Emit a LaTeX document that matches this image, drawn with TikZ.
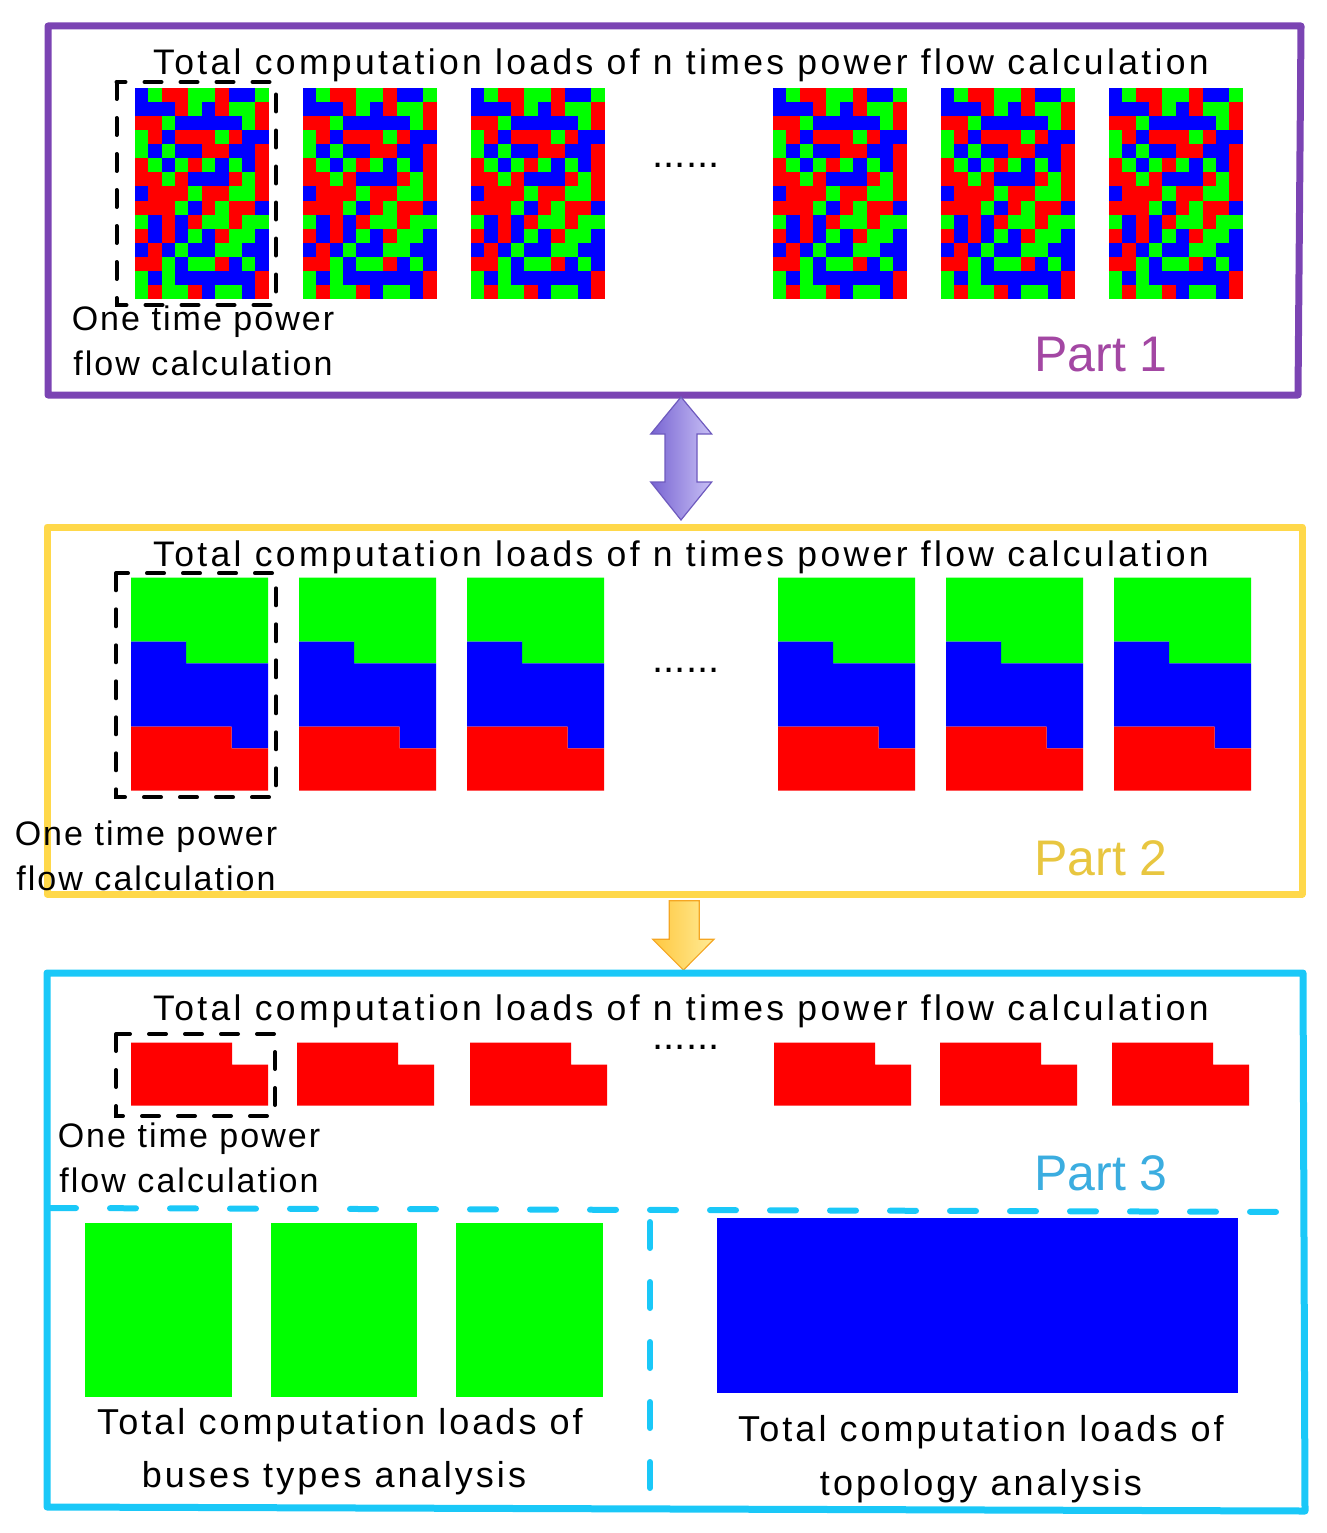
\documentclass[tikz,border=0pt]{standalone}
\usepackage{fontspec}
\setmainfont{Liberation Sans}
\definecolor{cB}{RGB}{0,0,255}
\definecolor{cG}{RGB}{0,255,0}
\definecolor{cR}{RGB}{255,0,0}
\definecolor{purpleframe}{RGB}{123,68,179}
\definecolor{yellowframe}{RGB}{255,216,74}
\definecolor{cyanframe}{RGB}{26,200,248}
\definecolor{partone}{RGB}{163,71,163}
\definecolor{parttwo}{RGB}{232,198,64}
\definecolor{partthree}{RGB}{59,173,224}
\definecolor{arrAleft}{RGB}{120,100,210}
\definecolor{arrAright}{RGB}{200,192,245}
\definecolor{arrAdraw}{RGB}{110,90,190}
\definecolor{arrBleft}{RGB}{255,200,64}
\definecolor{arrBright}{RGB}{255,235,150}
\definecolor{arrBdraw}{RGB}{245,166,35}
\tikzset{
  frame/.style={line width=7pt, line join=round},
  headtxt/.style={anchor=base, inner sep=0pt, font=\fontsize{35.5}{40}\selectfont\addfontfeature{LetterSpace=9.5}},
  txt/.style={anchor=base, inner sep=0pt, font=\fontsize{34}{40}\selectfont\addfontfeature{LetterSpace=6}},
  bigtxt/.style={anchor=base, inner sep=0pt, font=\fontsize{36}{40}\selectfont\addfontfeature{LetterSpace=8.5}},
  parttxt/.style={anchor=base west, inner sep=0pt, font=\fontsize{50}{56}\selectfont},
  dots/.style={anchor=base, inner sep=0pt, font=\fontsize{40}{40}\selectfont},
  onebox/.style={draw=black, line width=4pt, dash pattern=on 17pt off 19pt, line cap=round},
  cyandash/.style={draw=cyanframe, line width=6pt, dash pattern=on 26pt off 34pt, line cap=round}
}
\begin{document}
\begin{tikzpicture}[x=1pt,y=-1pt]
\useasboundingbox (0,0) rectangle (1326,1533);
% ---------- Part 1 ----------
\draw[frame, purpleframe] (48,26) -- (1301,26) -- (1298,395) -- (48,395) -- cycle;
\node[headtxt] (h1) at (681,74.3) {Total computation loads of n times power flow calculation};
\def\pat{{B,G,R,R,G,G,R,B,B,G},{B,B,B,R,G,B,R,G,G,R},{R,R,G,B,B,B,B,B,G,R},{G,R,B,R,R,R,G,R,B,B},{G,B,G,B,B,R,R,B,B,R},{R,G,B,G,R,G,B,G,B,R},{R,R,G,R,B,B,B,R,G,R},{B,R,R,R,G,R,R,G,G,R},{R,R,R,G,B,R,G,R,R,B},{G,B,R,B,R,G,G,R,G,G},{R,B,R,B,G,B,R,G,G,B},{B,R,B,G,B,B,G,G,B,B},{R,R,G,B,G,G,R,B,G,B},{G,B,G,B,B,B,B,B,B,R},{G,R,G,G,R,B,G,G,B,R}}
\foreach \tx in {134.7,302.7,470.7,772.7,940.7,1108.7}{
  \foreach \row [count=\r from 0] in \pat {
    \foreach \c [count=\k from 0] in \row {
      \fill[fill=c\c] (\tx+\k*13.4,88+\r*14.07) rectangle ++(13.5,14.2);
    }
  }
}
\draw[onebox] (116.5,82) rectangle (276,305);
\node[dots] (d1) at (686,168) {......};
\node[txt] (l1a) at (203,330) {One time power};
\node[txt] (l1b) at (203,375) {flow calculation};
\node[parttxt, text=partone] (p1) at (1034,371.7) {Part 1};
% ---------- arrow 1-2 ----------
\shadedraw[left color=arrAleft, right color=arrAright, draw=arrAdraw, line width=1.2pt]
  (681,397) -- (711.7,434) -- (697,434) -- (697,482) -- (711.7,482) -- (681,520)
  -- (650.7,482) -- (665,482) -- (665,434) -- (650.7,434) -- cycle;
% ---------- Part 2 ----------
\draw[frame, yellowframe] (47,527) -- (1302,527) -- (1302,894) -- (47,894) -- cycle;
\node[headtxt] (h2) at (681,566.5) {Total computation loads of n times power flow calculation};
\foreach \tx in {131,299,467,778,946,1114}{
  \fill[cG] (\tx,577.7) -- (\tx+137,577.7) -- (\tx+137,663.3) -- (\tx+55,663.3) -- (\tx+55,641.7) -- (\tx,641.7) -- cycle;
  \fill[cB] (\tx,641.7) -- (\tx+55,641.7) -- (\tx+55,663.3) -- (\tx+137,663.3) -- (\tx+137,748.3) -- (\tx+100.7,748.3) -- (\tx+100.7,726.7) -- (\tx,726.7) -- cycle;
  \fill[cR] (\tx,726.7) -- (\tx+100.7,726.7) -- (\tx+100.7,748.3) -- (\tx+137,748.3) -- (\tx+137,790.7) -- (\tx,790.7) -- cycle;
}
\draw[onebox] (116,573.3) rectangle (276,797.3);
\node[dots] (d2) at (686,672) {......};
\node[txt] (l2a) at (146,845) {One time power};
\node[txt] (l2b) at (146,890) {flow calculation};
\node[parttxt, text=parttwo] (p2) at (1034,875) {Part 2};
% ---------- arrow 2-3 ----------
\shadedraw[left color=arrBleft, right color=arrBright, draw=arrBdraw, line width=1.2pt]
  (669.3,900.7) -- (699.3,900.7) -- (699.3,939.3) -- (714,939.3) -- (683.4,970)
  -- (652.7,939.3) -- (669.3,939.3) -- cycle;
% ---------- Part 3 ----------
\draw[frame, cyanframe] (47,973) -- (1303,973) -- (1305,1511) -- (47,1507) -- cycle;
\node[headtxt] (h3) at (681,1020) {Total computation loads of n times power flow calculation};
\foreach \tx in {131,297,470,774,940,1112}{
  \fill[cR] (\tx,1042.7) -- (\tx+101,1042.7) -- (\tx+101,1064.7) -- (\tx+137,1064.7) -- (\tx+137,1105.7) -- (\tx,1105.7) -- cycle;
}
\draw[onebox] (116,1034) rectangle (275,1116);
\node[dots] (d3) at (686,1049) {......};
\node[txt] (l3a) at (189,1147) {One time power};
\node[txt] (l3b) at (189,1192) {flow calculation};
\node[parttxt, text=partthree] (p3) at (1034,1190) {Part 3};
\draw[cyandash] (50,1208) -- (1300,1212);
\draw[cyandash] (650,1222) -- (650,1495);
\fill[cG] (85,1223) rectangle (232,1397);
\fill[cG] (271,1223) rectangle (417,1397);
\fill[cG] (456,1223) rectangle (603,1397);
\fill[cB] (717,1218) rectangle (1238,1393);
\node[bigtxt] (b1a) at (340,1434.3) {Total computation loads of};
\node[bigtxt] (b1b) at (334,1487.7) {buses types analysis};
\node[bigtxt] (b2a) at (981,1441) {Total computation loads of};
\node[bigtxt] (b2b) at (981,1495) {topology analysis};
\end{tikzpicture}
\end{document}
